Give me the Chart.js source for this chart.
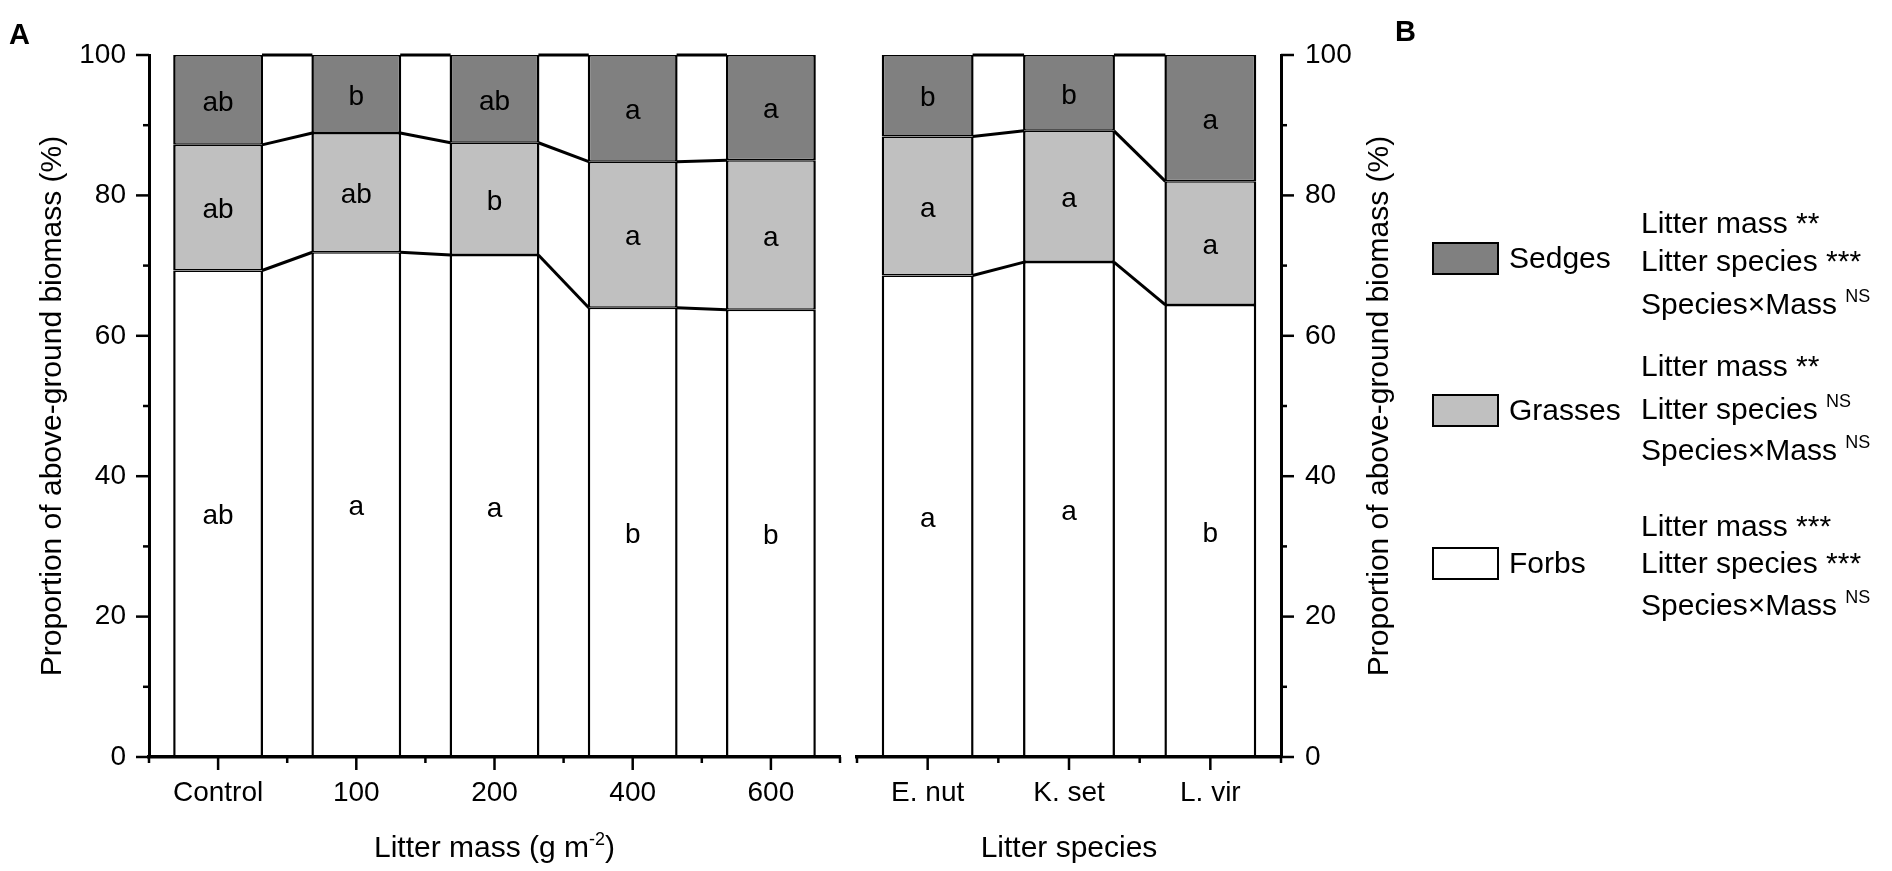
<!DOCTYPE html>
<html><head><meta charset="utf-8">
<script src="https://cdn.jsdelivr.net/npm/chart.js@4.4.0/dist/chart.umd.min.js"></script>
<style>
html,body{margin:0;padding:0;background:#fff;width:1892px;height:871px;overflow:hidden;}
body{position:relative;font-family:'Liberation Sans',Arial,sans-serif;color:#000;}
canvas{position:absolute;top:0;}
.t{position:absolute;white-space:nowrap;font-size:30px;line-height:30px;}
.box{position:absolute;box-sizing:border-box;border:2px solid #000;width:67px;height:33px;left:1432px;}
.ns{font-size:18px;position:relative;top:-12px;}
</style></head><body>
<canvas id="cA" width="860" height="871" style="left:0;width:860px;height:871px"></canvas>
<canvas id="cB" width="1047" height="871" style="left:845px;width:1047px;height:871px"></canvas>

<div class="t" style="left:9px;top:20px;font-size:29px;line-height:29px;font-weight:bold">A</div>
<div class="t" style="left:1395px;top:17px;font-size:29px;line-height:29px;font-weight:bold">B</div>

<div class="box" style="top:242px;background:#808080"></div>
<div class="box" style="top:394px;background:#c0c0c0"></div>
<div class="box" style="top:547px;background:#ffffff"></div>
<div class="t" style="left:1509px;top:243px">Sedges</div>
<div class="t" style="left:1509px;top:395px">Grasses</div>
<div class="t" style="left:1509px;top:548px">Forbs</div>

<div class="t" style="left:1641px;top:208px">Litter mass **</div>
<div class="t" style="left:1641px;top:246px">Litter species ***</div>
<div class="t" style="left:1641px;top:289px">Species×Mass <span class="ns">NS</span></div>

<div class="t" style="left:1641px;top:351px">Litter mass **</div>
<div class="t" style="left:1641px;top:394px">Litter species <span class="ns">NS</span></div>
<div class="t" style="left:1641px;top:435px">Species×Mass <span class="ns">NS</span></div>

<div class="t" style="left:1641px;top:511px">Litter mass ***</div>
<div class="t" style="left:1641px;top:548px">Litter species ***</div>
<div class="t" style="left:1641px;top:590px">Species×Mass <span class="ns">NS</span></div>

<script>
// ---------- data ----------
const massCategories = ['Control', '100', '200', '400', '600'];
const massForbs   = [69.3, 71.9, 71.5, 64.0, 63.7];
const massGrasses = [17.9, 17.0, 16.0, 20.8, 21.3];
const massSedges  = [12.8, 11.1, 12.5, 15.2, 15.0];
const massForbLetters  = ['ab', 'a', 'a', 'b', 'b'];
const massGrassLetters = ['ab', 'ab', 'b', 'a', 'a'];
const massSedgeLetters = ['ab', 'b', 'ab', 'a', 'a'];

const speciesCategories = ['E. nut', 'K. set', 'L. vir'];
const speciesForbs   = [68.6, 70.5, 64.4];
const speciesGrasses = [19.8, 18.7, 17.6];
const speciesSedges  = [11.6, 10.8, 18.0];
const speciesForbLetters  = ['a', 'a', 'b'];
const speciesGrassLetters = ['a', 'a', 'a'];
const speciesSedgeLetters = ['b', 'b', 'a'];

const yMin = 0, yMax = 100, yStep = 20;
const yTitle = 'Proportion of above-ground biomass (%)';
const massTitle = ['Litter mass (g m', '-2', ')'];
const speciesTitle = ['Litter species'];

// ---------- style ----------
const FONT = "'Liberation Sans', Arial, sans-serif";
Chart.defaults.font.family = FONT;
Chart.defaults.color = '#000';
Chart.defaults.animation = false;

const COL = { forbs: '#ffffff', grasses: '#c0c0c0', sedges: '#808080' };

function makeDatasets(f, g, s, lf, lg, ls) {
  const common = {
    borderColor: '#000',
    borderWidth: { top: 1.5, bottom: 1.5, left: 2.5, right: 2.5 },
    borderSkipped: false,
    categoryPercentage: 1,
    barPercentage: 0.65,
    inflateAmount: 0
  };
  return [
    Object.assign({ label: 'Forbs', data: f, backgroundColor: COL.forbs, letters: lf }, common),
    Object.assign({ label: 'Grasses', data: g, backgroundColor: COL.grasses, letters: lg }, common),
    Object.assign({ label: 'Sedges', data: s, backgroundColor: COL.sedges, letters: ls }, common)
  ];
}

const decor = {
  id: 'decor',
  afterDatasetsDraw(chart) {
    const ctx = chart.ctx;
    const metas = chart.data.datasets.map((d, i) => chart.getDatasetMeta(i));
    ctx.save();
    ctx.strokeStyle = '#000';
    ctx.lineWidth = 3;
    metas.forEach(meta => {
      const els = meta.data;
      for (let j = 0; j < els.length - 1; j++) {
        const a = els[j], b = els[j + 1];
        ctx.beginPath();
        ctx.moveTo(a.x + a.width / 2 - 1, a.y);
        ctx.lineTo(b.x - b.width / 2 + 1, b.y);
        ctx.stroke();
      }
    });
    ctx.font = '28px ' + FONT;
    ctx.textAlign = 'center';
    ctx.textBaseline = 'middle';
    ctx.fillStyle = '#000';
    chart.data.datasets.forEach((ds, i) => {
      metas[i].data.forEach((el, j) => {
        ctx.fillText(ds.letters[j], el.x, (el.y + el.base) / 2 + 3);
      });
    });
    ctx.restore();
  },
  afterDraw(chart, args, opts) {
    const ctx = chart.ctx;
    const xs = chart.scales.x, ys = chart.scales.y;
    ctx.save();
    ctx.strokeStyle = '#000';
    ctx.lineWidth = 2.5;
    // y ticks (major + minor)
    const axisX = opts.yRight ? ys.left : ys.right;
    const dir = opts.yRight ? 1 : -1;
    const yt = ys.ticks.map(t => t.value);
    yt.forEach((v, i) => {
      const py = ys.getPixelForValue(v);
      ctx.beginPath(); ctx.moveTo(axisX, py); ctx.lineTo(axisX + dir * 13, py); ctx.stroke();
      if (i < yt.length - 1) {
        const pm = ys.getPixelForValue((v + yt[i + 1]) / 2);
        ctx.beginPath(); ctx.moveTo(axisX, pm); ctx.lineTo(axisX + dir * 6, pm); ctx.stroke();
      }
    });
    // x ticks
    const axisY = xs.top;
    const n = xs.ticks.length;
    for (let i = 0; i < n; i++) {
      const px = xs.getPixelForTick(i);
      ctx.beginPath(); ctx.moveTo(px, axisY); ctx.lineTo(px, axisY + 13); ctx.stroke();
    }
    for (let i = 0; i <= n; i++) {
      const px = xs.getPixelForValue(i - 0.5);
      ctx.beginPath(); ctx.moveTo(px, axisY); ctx.lineTo(px, axisY + 6); ctx.stroke();
    }
    // x title (with optional superscript)
    const parts = opts.xTitle;
    ctx.fillStyle = '#000';
    ctx.textBaseline = 'alphabetic';
    ctx.textAlign = 'left';
    const big = '30px ' + FONT, small = '18px ' + FONT;
    let total = 0;
    const widths = parts.map((p, k) => { ctx.font = (k === 1 ? small : big); const w = ctx.measureText(p).width; total += w; return w; });
    let cx = (xs.left + xs.right) / 2 - total / 2;
    const base = 857;
    parts.forEach((p, k) => {
      ctx.font = (k === 1 ? small : big);
      ctx.fillText(p, cx, k === 1 ? base - 12 : base);
      cx += widths[k];
    });
    // right y title
    if (opts.rightTitleX) {
      ctx.font = big;
      ctx.textAlign = 'center';
      ctx.textBaseline = 'middle';
      ctx.translate(opts.rightTitleX, (ys.top + ys.bottom) / 2);
      ctx.rotate(-Math.PI / 2);
      ctx.fillText(yTitle, 0, 0);
    }
    ctx.restore();
  }
};

function xScale(h) {
  return {
    type: 'category', stacked: true, offset: true,
    grid: { display: false, drawTicks: false },
    border: { display: true, width: 3.5, color: '#000', z: 1 },
    ticks: { font: { size: 28 }, padding: 19, maxRotation: 0, autoSkip: false },
    afterFit: s => { s.height = h; }
  };
}

new Chart(document.getElementById('cA'), {
  type: 'bar',
  data: { labels: massCategories, datasets: makeDatasets(massForbs, massGrasses, massSedges, massForbLetters, massGrassLetters, massSedgeLetters) },
  options: {
    responsive: false, devicePixelRatio: 1,
    layout: { padding: { top: 55, right: 20, bottom: 0, left: 0 } },
    plugins: { legend: { display: false }, tooltip: { enabled: false },
      decor: { yRight: false, xTitle: massTitle } },
    scales: {
      x: xScale(114),
      y: {
        stacked: true, min: yMin, max: yMax, position: 'left',
        grid: { display: false, drawTicks: false },
        border: { display: true, width: 3, color: '#000', z: 1 },
        ticks: { stepSize: yStep, font: { size: 28 }, padding: 23 },
        title: { display: true, text: yTitle, font: { size: 30 }, padding: { top: 35, bottom: 0 } },
        afterFit: s => { s.width = 149; }
      }
    }
  },
  plugins: [decor]
});

new Chart(document.getElementById('cB'), {
  type: 'bar',
  data: { labels: speciesCategories, datasets: makeDatasets(speciesForbs, speciesGrasses, speciesSedges, speciesForbLetters, speciesGrassLetters, speciesSedgeLetters) },
  options: {
    responsive: false, devicePixelRatio: 1,
    layout: { padding: { top: 55, right: 521, bottom: 0, left: 12 } },
    plugins: { legend: { display: false }, tooltip: { enabled: false },
      decor: { yRight: true, xTitle: speciesTitle, rightTitleX: 535 } },
    scales: {
      x: xScale(114),
      y: {
        stacked: true, min: yMin, max: yMax, position: 'right',
        grid: { display: false, drawTicks: false },
        border: { display: true, width: 3, color: '#000', z: 1 },
        ticks: { stepSize: yStep, font: { size: 28 }, padding: 24 },
        afterFit: s => { s.width = 90; }
      }
    }
  },
  plugins: [decor]
});
</script>
</body></html>
